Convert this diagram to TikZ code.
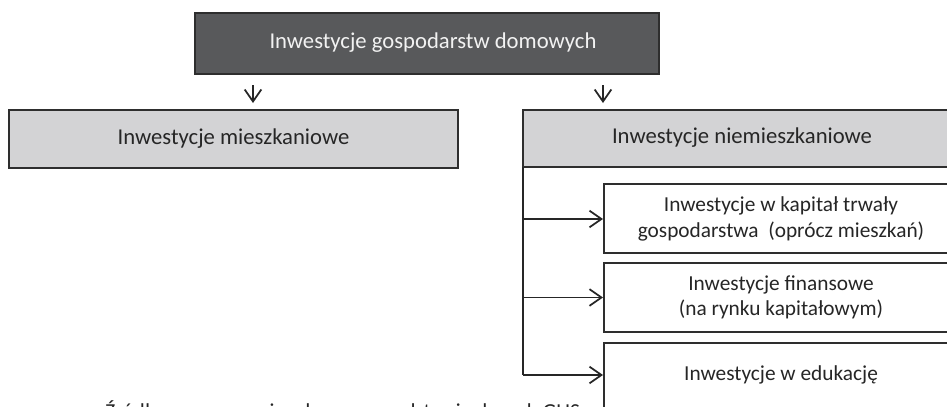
\documentclass[tikz,border=0pt]{standalone}
\usepackage{fontspec}
\setmainfont{Carlito}
\usetikzlibrary{arrows.meta}
\definecolor{darkfill}{HTML}{58595B}
\definecolor{lightfill}{HTML}{D3D3D5}
\definecolor{edge}{HTML}{2E2E2E}
\definecolor{txt}{HTML}{262626}
\begin{document}
\begin{tikzpicture}[x=0.75pt,y=-0.75pt,
  mainbox/.style={draw=edge,line width=1.6pt,fill=darkfill},
  graybox/.style={draw=edge,line width=1.6pt,fill=lightfill},
  subbox/.style={draw=edge,line width=1.3pt,fill=white},
  maintext/.style={text=white!95!black,font=\fontsize{17}{20}\selectfont},
  graytext/.style={text=txt,font=\fontsize{17}{20}\selectfont},
  subtext/.style={text=txt,align=center,font=\fontsize{16}{19}\selectfont},
  conn/.style={draw=black!85,line width=1.3pt},
  arr/.style={conn,-{Straight Barb[length=9pt,width=12.5pt,line width=1.3pt]}}
]
\useasboundingbox (0,0) rectangle (947,407);
\clip (0,0) rectangle (947,407);
\fill[white] (0,0) rectangle (947,407);
\path[mainbox] (195,13) rectangle (659,74);
\node[maintext] (top) at (433,43) {Inwestycje gospodarstw domowych};
\path[graybox] (9,110) rectangle (458,168);
\node[graytext] (miesz) at (233.5,139) {Inwestycje mieszkaniowe};
\path[graybox] (523,110) rectangle (962,167);
\node[graytext] (niem) at (742,138) {Inwestycje niemieszkaniowe};
\path[subbox] (604,184) rectangle (958,253);
\node[subtext] (b1) at (781,219) {Inwestycje w kapitał trwały\\gospodarstwa~ (oprócz mieszkań)};
\path[subbox] (604,263) rectangle (958,332);
\node[subtext] (b2) at (781,297.5) {Inwestycje finansowe\\(na rynku kapitałowym)};
\path[subbox] (604,343) rectangle (958,411);
\node[subtext] (b3) at (781,375) {Inwestycje w edukację};
% connectors
\coordinate (aL1) at (253,85);
\coordinate (aL2) at (253,103);
\coordinate (aR1) at (603,85);
\coordinate (aR2) at (603,103);
\draw[arr] (aL1) -- (aL2);
\draw[arr] (aR1) -- (aR2);
\coordinate (vtop) at (523,167);
\coordinate (j1) at (523,219);
\coordinate (j2) at (523,297.5);
\coordinate (j3) at (523,375);
\coordinate (e1) at (603,219);
\coordinate (e2) at (603,297.5);
\coordinate (e3) at (603,375);
\draw[conn] (vtop) -- (j3);
\draw[arr] (j1) -- (e1);
\draw[arr] (j2) -- (e2);
\draw[arr] (j3) -- (e3);
% source line, cut off at the bottom edge as in the reference
\node[anchor=base west,inner sep=0pt,text=txt,font=\fontsize{16}{19}\selectfont] (src) at (105,418) {Źródło: opracowanie własne na podstawie danych GUS};
\end{tikzpicture}
\end{document}
